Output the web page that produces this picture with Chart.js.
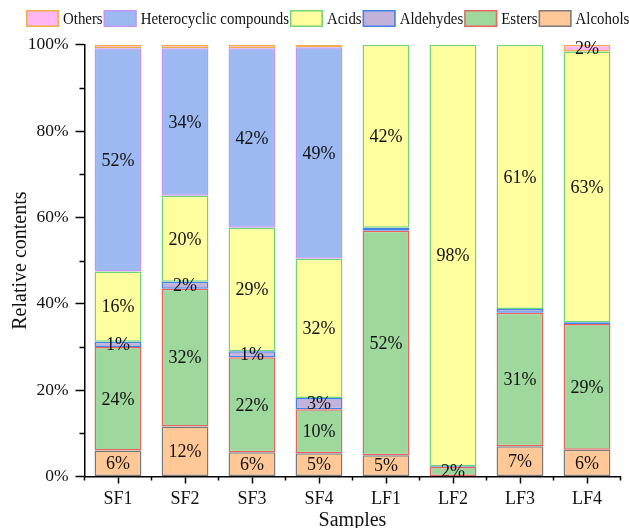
<!DOCTYPE html>
<html>
<head>
<meta charset="utf-8">
<script src="https://cdn.jsdelivr.net/npm/chart.js@4"></script>
<style>
  html, body { margin: 0; padding: 0; background: #fff; }
  #wrap { width: 629px; height: 528px; }
</style>
</head>
<body>
<div id="wrap"><canvas id="chart" width="629" height="528"></canvas></div>
<script>
// Sample groups on the x axis
const samples = ['SF1', 'SF2', 'SF3', 'SF4', 'LF1', 'LF2', 'LF3', 'LF4'];

// Relative contents (%) of each compound class, stacked bottom to top
const alcohols     = [6.0, 11.6, 5.6, 5.4, 4.9, 0.0, 7.0, 6.2];
const esters       = [24.0, 31.9, 22.0, 10.2, 52.0, 2.2, 30.9, 29.1];
const aldehydes    = [1.2, 1.6, 1.4, 2.6, 0.7, 0.2, 0.9, 0.4];
const acids        = [16.3, 19.9, 28.6, 32.2, 42.4, 97.6, 61.2, 62.7];
const heterocyclic = [51.7, 34.2, 41.6, 49.0, 0.0, 0.0, 0.0, 0.0];
const others       = [0.8, 0.8, 0.8, 0.6, 0.0, 0.0, 0.0, 1.6];

// y axis tick values
const yTicks = [0, 20, 40, 60, 80, 100];
const yMinorTicks = [10, 30, 50, 70, 90];

const SERIF = "'Liberation Serif', 'Times New Roman', serif";

const datasets = [
  { label: 'Alcohols', data: alcohols, backgroundColor: '#FFC896', borderColor: '#7A7A7A' },
  { label: 'Esters', data: esters, backgroundColor: '#9ED89C', borderColor: '#E6665F' },
  { label: 'Aldehydes', data: aldehydes, backgroundColor: '#C2B2DA', borderColor: '#4482E6' },
  { label: 'Acids', data: acids, backgroundColor: '#FFFFA0', borderColor: '#72D475' },
  { label: 'Heterocyclic compounds', data: heterocyclic, backgroundColor: '#9DB9F1', borderColor: '#C496F4' },
  { label: 'Others', data: others, backgroundColor: '#FFB6F2', borderColor: '#EFAE48' }
].map(d => Object.assign(d, { borderWidth: 1.5, borderSkipped: false }));

// Percentage labels centred inside each segment
const segmentLabels = {
  id: 'segmentLabels',
  afterDatasetsDraw(chart) {
    const ctx = chart.ctx;
    ctx.save();
    ctx.font = '18px ' + SERIF;
    ctx.fillStyle = '#111';
    ctx.textAlign = 'center';
    ctx.textBaseline = 'middle';
    chart.data.datasets.forEach((ds, di) => {
      const meta = chart.getDatasetMeta(di);
      meta.data.forEach((bar, i) => {
        const v = ds.data[i];
        if (v >= 1) {
          ctx.fillText(Math.round(v) + '%', bar.x, (bar.y + bar.base) / 2 + 1);
        }
      });
    });
    ctx.restore();
  }
};

// Short minor tick marks on both axes
const minorTicks = {
  id: 'minorTicks',
  afterDraw(chart) {
    const ctx = chart.ctx;
    const y = chart.scales.y, x = chart.scales.x;
    const area = chart.chartArea;
    ctx.save();
    ctx.strokeStyle = '#000';
    ctx.lineWidth = 1.5;
    ctx.beginPath();
    yMinorTicks.forEach(v => {
      const py = Math.round(y.getPixelForValue(v)) + 0.5;
      ctx.moveTo(area.left - 5, py);
      ctx.lineTo(area.left, py);
    });
    for (let i = 0; i <= samples.length; i++) {
      const px = x.getPixelForValue(i - 0.5);
      ctx.moveTo(px, area.bottom);
      ctx.lineTo(px, area.bottom + 4);
    }
    ctx.stroke();
    ctx.restore();
  }
};

// Legend row across the top, in reverse stacking order (narrow serif text)
const topLegend = {
  id: 'topLegend',
  afterDraw(chart) {
    const ctx = chart.ctx;
    const squeeze = 0.85;
    ctx.save();
    ctx.font = '17.5px ' + SERIF;
    ctx.textBaseline = 'middle';
    ctx.textAlign = 'left';
    let x = 26;
    const top = 10, bw = 33, bh = 17;
    const items = chart.data.datasets.slice().reverse();
    items.forEach(ds => {
      ctx.fillStyle = ds.backgroundColor;
      ctx.fillRect(x, top, bw, bh);
      ctx.strokeStyle = ds.borderColor;
      ctx.lineWidth = 1.5;
      ctx.strokeRect(x + 0.75, top + 0.75, bw - 1.5, bh - 1.5);
      const tx = x + bw + 4;
      ctx.save();
      ctx.translate(tx, top + bh / 2 + 1);
      ctx.scale(squeeze, 1);
      ctx.fillStyle = '#111';
      ctx.fillText(ds.label, 0, 0);
      ctx.restore();
      x = tx + ctx.measureText(ds.label).width * squeeze + 1;
    });
    ctx.restore();
  }
};

new Chart(document.getElementById('chart'), {
  type: 'bar',
  data: { labels: samples, datasets },
  options: {
    responsive: false,
    animation: false,
    devicePixelRatio: 1,
    layout: { padding: { top: 44.7, right: 8.5, left: 0, bottom: 0 } },
    datasets: { bar: { categoryPercentage: 1.0, barPercentage: 0.7 } },
    plugins: { legend: { display: false }, tooltip: { enabled: false } },
    scales: {
      x: {
        stacked: true,
        afterFit(scale) { scale.height = 51.5; },
        grid: { drawOnChartArea: false, drawTicks: true, tickLength: 7, tickColor: '#000', tickWidth: 1.5, offset: false },
        border: { display: true, color: '#000', width: 1.5 },
        ticks: { color: '#111', font: { family: SERIF, size: 18 }, padding: 5, maxRotation: 0 },
        title: { display: true, text: 'Samples', color: '#111', font: { family: SERIF, size: 20, lineHeight: 1 }, padding: { top: 0, bottom: -3 } }
      },
      y: {
        stacked: true,
        min: 0,
        max: 100,
        afterFit(scale) { scale.width = 84.5; },
        afterBuildTicks(scale) { scale.ticks = yTicks.map(v => ({ value: v })); },
        grid: { drawOnChartArea: false, drawTicks: true, tickLength: 9, tickColor: '#000', tickWidth: 1.5 },
        border: { display: true, color: '#000', width: 1.5 },
        ticks: { color: '#111', font: { family: SERIF, size: 17.5 }, padding: 7, callback: v => v + '%' },
        title: { display: true, text: 'Relative contents', color: '#111', font: { family: SERIF, size: 20, lineHeight: 1.2 }, padding: { top: 9, bottom: 0 } }
      }
    }
  },
  plugins: [segmentLabels, minorTicks, topLegend]
});
</script>
</body>
</html>
